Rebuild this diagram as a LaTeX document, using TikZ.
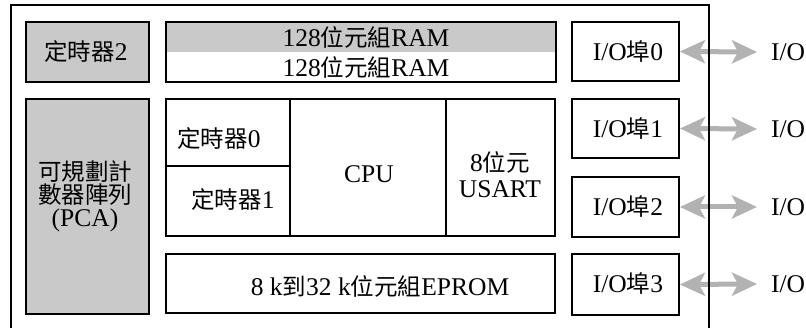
\documentclass[tikz,border=0pt]{standalone}
\usepackage{fontspec}
\setmainfont{Liberation Serif}
\newfontfamily\cjkfont{Noto Sans CJK TC}
\newcommand\zh[1]{{\cjkfont\fontsize{23.5}{23}\selectfont #1}}
\usetikzlibrary{arrows.meta}
\tikzset{
  box/.style={draw=black, line width=2pt, inner sep=0pt},
  shaded/.style={fill=black!21},
  txt/.style={inner sep=0pt, align=center, font=\fontsize{25.5}{23}\selectfont},
  ioarrow/.style={draw=black!30, line width=5pt,
     {Stealth[length=25pt,width=23pt,inset=6pt]}-{Stealth[length=25pt,width=23pt,inset=6pt]}},
}
\begin{document}
\begin{tikzpicture}[x=1pt,y=-1pt]
\useasboundingbox (0,0) rectangle (806,328);
\fill[white] (0,0) rectangle (806,328);

% left column
\node[box, shaded, minimum width=123pt, minimum height=60pt] (t2) at (87.5,52) {};
\node[txt] (t2t) at (86,52) {\zh{定時器}2};
\node[box, shaded, minimum width=123pt, minimum height=215pt] (pca) at (87.5,206.5) {};
\node[txt] (pcat) at (85,196) {\zh{可規劃計}\\\zh{數器陣列}\\(PCA)};

% RAM
\fill[black!21] (166,22) rectangle (556,52);
\node[box, minimum width=390pt, minimum height=60pt] (ram) at (361,52) {};
\node[txt] (ram1) at (366,37) {128\zh{位元組}RAM};
\node[txt] (ram2) at (366,67) {128\zh{位元組}RAM};

% core
\node[box, minimum width=124pt, minimum height=67pt] (tm0) at (228,132.5) {};
\node[box, minimum width=124pt, minimum height=70pt] (tm1) at (228,201) {};
\node[txt] (tm0t) at (219,139) {\zh{定時器}0};
\node[txt] (tm1t) at (233,200) {\zh{定時器}1};
\node[box, minimum width=156pt, minimum height=137pt] (cpu) at (368,167.5) {};
\node[txt] (cput) at (369,174) {CPU};
\node[box, minimum width=109pt, minimum height=137pt] (usart) at (500.5,167.5) {};
\node[txt, font=\fontsize{25.5}{26}\selectfont] (usartt) at (500,175) {8\zh{位元}\\USART};
\node[box, minimum width=389pt, minimum height=59pt] (eprom) at (360.5,283.5) {};
\node[txt] (epromt) at (380,286) {8 k\zh{到}32 k\zh{位元組}EPROM};

% I/O ports
\node[box, minimum width=107pt, minimum height=59pt] (io0) at (625.5,51.5) {};
\node[box, minimum width=107pt, minimum height=59pt] (io1) at (625.5,128.5) {};
\node[box, minimum width=107pt, minimum height=60pt] (io2) at (625.5,207) {};
\node[box, minimum width=107pt, minimum height=61pt] (io3) at (625.5,284.5) {};
\node[txt] (io0t) at (628,52) {I/O\zh{埠}0};
\node[txt] (io1t) at (628,129) {I/O\zh{埠}1};
\node[txt] (io2t) at (628,207) {I/O\zh{埠}2};
\node[txt] (io3t) at (628,284) {I/O\zh{埠}3};

% external I/O
\node[txt] (x0) at (788,52) {I/O};
\node[txt] (x1) at (788,129) {I/O};
\node[txt] (x2) at (788,207) {I/O};
\node[txt] (x3) at (788,284) {I/O};
\coordinate (e0) at (757,52);
\coordinate (e1) at (757,129);
\coordinate (e2) at (757,207);
\coordinate (e3) at (757,284);
\draw[ioarrow] (io0.east) -- (e0);
\draw[ioarrow] (io1.east) -- (e1);
\draw[ioarrow] (io2.east) -- (e2);
\draw[ioarrow] (io3.east) -- (e3);

% outer frame
\draw[line width=2pt] (11,340) -- (11,5) -- (709,5) -- (709,340);
\end{tikzpicture}
\end{document}
